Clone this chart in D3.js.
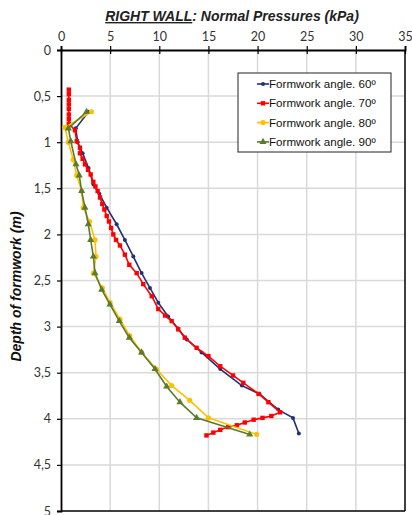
<!DOCTYPE html>
<html><head><meta charset="utf-8">
<script src="https://cdn.jsdelivr.net/npm/d3@7"></script>
<style>body{margin:0;background:#fff}svg{display:block}</style>
</head><body>
<svg id="c" width="412" height="515"></svg>
<script>
const xTicks = [0,5,10,15,20,25,30,35];
const yTicks = [0,0.5,1,1.5,2,2.5,3,3.5,4,4.5,5];
const seriesNames = ["Formwork angle. 60º","Formwork angle. 70º","Formwork angle. 80º","Formwork angle. 90º"];
const colors = ["#1f3177","#ff0000","#ffc000","#5a7a2e"];
const shapes = ["circle","square","circle","triangle"];

// [pressure kPa, depth m]
const s60 = [[2.8,0.67],[1.5,0.85],[1.7,1.0],[2.2,1.12],[2.8,1.28],[3.3,1.46],[3.9,1.56],[4.65,1.71],[5.66,1.89],[6.5,2.06],[7.36,2.24],[8.2,2.42],[9.05,2.58],[9.9,2.74],[10.9,2.89],[11.9,3.02],[12.8,3.14],[14.3,3.28],[16.2,3.46],[18.4,3.64],[20.2,3.73],[22.1,3.90],[23.6,3.99],[24.2,4.16]];
const s70 = [[0.8,0.43],[0.8,0.48],[0.8,0.54],[0.8,0.59],[0.8,0.64],[0.8,0.70],[0.8,0.75],[0.8,0.80],[1.42,0.87],[1.6,0.99],[1.93,1.06],[1.93,1.12],[2.2,1.18],[2.44,1.24],[2.75,1.30],[3.02,1.35],[3.29,1.43],[3.5,1.48],[3.73,1.53],[3.97,1.60],[4.2,1.67],[4.41,1.73],[4.65,1.80],[4.88,1.86],[5.1,1.93],[5.32,2.00],[5.6,2.06],[6.0,2.12],[6.5,2.22],[6.95,2.33],[7.7,2.42],[8.37,2.54],[9.23,2.67],[9.9,2.81],[10.6,2.88],[11.26,2.94],[11.93,3.03],[12.6,3.12],[13.8,3.23],[15.0,3.32],[16.2,3.43],[17.5,3.53],[18.55,3.61],[20.1,3.73],[21.1,3.82],[22.3,3.93],[21.4,3.97],[20.5,3.99],[19.6,4.01],[18.7,4.04],[17.9,4.07],[17.0,4.09],[16.2,4.12],[15.5,4.15],[14.8,4.18]];
const s80 = [[3.1,0.67],[0.4,0.84],[0.75,1.0],[1.25,1.19],[1.6,1.36],[2.1,1.53],[2.27,1.71],[2.9,1.86],[3.46,2.06],[3.56,2.24],[3.3,2.42],[4.2,2.58],[5.0,2.74],[6.0,2.92],[7.0,3.10],[8.2,3.28],[9.7,3.46],[11.26,3.64],[13.1,3.80],[15.0,3.99],[19.9,4.17]];
const s90 = [[2.6,0.67],[0.75,0.85],[1.0,0.99],[1.53,1.24],[1.86,1.36],[2.1,1.53],[2.44,1.71],[2.78,1.89],[3.02,2.06],[3.29,2.24],[3.46,2.42],[4.14,2.60],[4.98,2.76],[5.93,2.94],[6.95,3.12],[8.2,3.28],[9.56,3.46],[10.75,3.65],[12.1,3.82],[13.8,3.99],[19.2,4.17]];
const allSeries = [s60,s70,s80,s90];

const svg = d3.select("#c");
const L=61,R=405,T=50,B=511;
const x = d3.scaleLinear().domain([0,35]).range([L,R]);
const y = d3.scaleLinear().domain([0,5]).range([T,B]);
const fmt = d => String(d).replace(".",",");

// grid
svg.append("g").selectAll("line").data(xTicks.slice(1,-1)).join("line")
  .attr("x1",d=>x(d)).attr("x2",d=>x(d)).attr("y1",T).attr("y2",B)
  .attr("stroke","#d9d9d9").attr("stroke-width",1.5);
svg.append("g").selectAll("line").data(yTicks.slice(1,-1)).join("line")
  .attr("y1",d=>y(d)).attr("y2",d=>y(d)).attr("x1",L).attr("x2",R)
  .attr("stroke","#d9d9d9").attr("stroke-width",1.5);

// frame
svg.append("line").attr("x1",R).attr("x2",R).attr("y1",T).attr("y2",B).attr("stroke","#000").attr("stroke-width",1.5);
svg.append("line").attr("x1",L).attr("x2",R).attr("y1",B).attr("y2",B).attr("stroke","#000").attr("stroke-width",1.5);

const xAxis = svg.append("g").attr("transform",`translate(0,${T})`)
  .call(d3.axisTop(x).tickValues(xTicks).tickSize(4).tickPadding(5).tickFormat(fmt));
const yAxis = svg.append("g").attr("transform",`translate(${L},0)`)
  .call(d3.axisLeft(y).tickValues(yTicks).tickSize(4).tickPadding(6).tickFormat(fmt));
[xAxis,yAxis].forEach(a=>{
  a.select(".domain").attr("stroke","#000").attr("stroke-width",1.8);
  a.selectAll(".tick line").attr("stroke","#000").attr("stroke-width",1.2);
  a.selectAll("text").attr("font-family","Lato, 'Liberation Sans', sans-serif").attr("font-size",12.5).attr("fill","#333");
});
xAxis.selectAll(".tick").append("line").attr("y1",0).attr("y2",4).attr("stroke","#000").attr("stroke-width",1.2);

function marker(g, shape, color, size){
  if(shape==="circle") g.append("circle").attr("r",size).attr("fill",color);
  else if(shape==="square") g.append("rect").attr("x",-size).attr("y",-size).attr("width",2*size).attr("height",2*size).attr("fill",color);
  else g.append("path").attr("d",d3.symbol(d3.symbolTriangle, size*size*3.2)()).attr("fill",color);
}
const sizes=[2,2.2,2.6,2.6];

const line = d3.line().x(d=>x(d[0])).y(d=>y(d[1]));
allSeries.forEach((s,i)=>{
  const g = svg.append("g");
  g.append("path").datum(s).attr("d",line).attr("fill","none").attr("stroke",colors[i]).attr("stroke-width",1.6);
  g.selectAll("g").data(s).join("g").attr("transform",d=>`translate(${x(d[0])},${y(d[1])})`)
    .each(function(){ marker(d3.select(this), shapes[i], colors[i], sizes[i]); });
});

// title
const title = svg.append("text").attr("x",232).attr("y",21).attr("text-anchor","middle")
  .attr("font-family","'Liberation Sans', Arial, sans-serif").attr("font-size",14).attr("font-weight","bold").attr("font-style","italic").attr("fill","#222");
title.append("tspan").attr("text-decoration","underline").text("RIGHT WALL");
title.append("tspan").text(": Normal Pressures (kPa)");

// y label
svg.append("text").attr("transform",`translate(21,${(T+B)/2+6}) rotate(-90)`).attr("text-anchor","middle")
  .attr("font-family","'Liberation Sans', Arial, sans-serif").attr("font-size",14).attr("font-weight","bold").attr("font-style","italic").attr("fill","#111")
  .text("Depth of formwork (m)");

// legend
const lg = svg.append("g");
lg.append("rect").attr("x",238).attr("y",73).attr("width",153).attr("height",79).attr("fill","#fff").attr("stroke","#222").attr("stroke-width",1);
seriesNames.forEach((n,i)=>{
  const yy = 84 + i*19.3;
  lg.append("line").attr("x1",257).attr("x2",269).attr("y1",yy).attr("y2",yy).attr("stroke",colors[i]).attr("stroke-width",1.6);
  const m = lg.append("g").attr("transform",`translate(263,${yy})`);
  marker(m, shapes[i], colors[i], sizes[i]);
  lg.append("text").attr("x",269).attr("y",yy+4).attr("font-family","'Liberation Sans', Arial, sans-serif").attr("font-size",11.6).attr("fill","#111").text(n);
});
</script>
</body></html>
